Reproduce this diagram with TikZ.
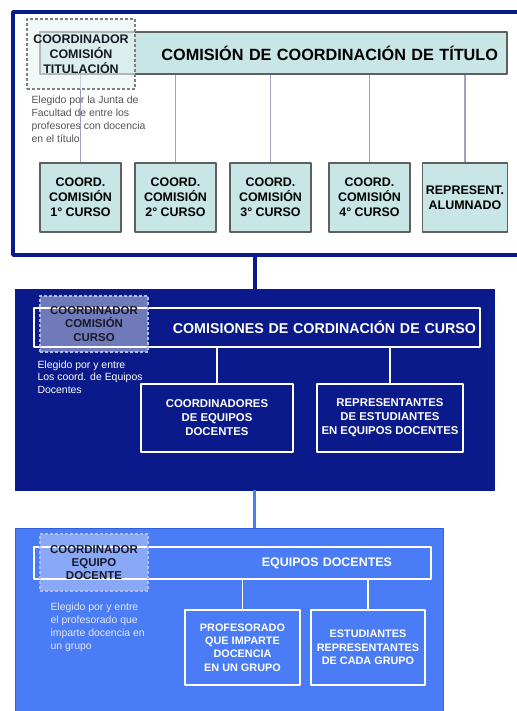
\documentclass[tikz,border=0pt]{standalone}
\usepackage{fontspec}
\setmainfont{Liberation Sans}
\usepackage{tikz}
\usetikzlibrary{shapes,arrows}

\definecolor{navy}{RGB}{10,26,138}
\definecolor{brightblue}{RGB}{74,124,245}
\definecolor{blueline}{RGB}{50,95,215}
\definecolor{tealfill}{RGB}{200,230,230}
\definecolor{boxgray}{RGB}{95,95,95}
\definecolor{linkgray}{RGB}{160,160,192}
\definecolor{notegray}{RGB}{85,85,85}
\definecolor{paleblue}{RGB}{175,190,235}
\definecolor{darktext}{RGB}{25,25,35}
\definecolor{palewhite}{RGB}{225,232,255}

\tikzset{
  panelframe/.style={draw,rectangle,inner sep=0pt},
  cyanbox/.style={draw=boxgray,fill=tealfill,line width=1.2bp,rectangle,align=center,
    font=\bfseries\fontsize{12.5}{15}\selectfont},
  outbox/.style={draw=white,line width=2bp,rectangle,align=center,text=white,
    font=\bfseries\fontsize{11.4}{14}\selectfont},
  dashbox/.style={rectangle,dashed,line width=1.6bp,dash pattern=on 3bp off 2bp,
    fill=white,text opacity=1,align=center,minimum width=108bp},
  notetext/.style={anchor=west,align=left,font=\fontsize{10.5}{13}\selectfont},
}

\begin{document}
\begin{tikzpicture}[>=latex,line join=bevel,x=1bp,y=1bp]
  \useasboundingbox (0bp,0bp) rectangle (517bp,711bp);
  \clip (0bp,0bp) rectangle (517bp,711bp);
%% panels
  \node (titpanel) at (271.5bp,577.5bp) [panelframe,draw=navy,line width=3.5bp,fill=white,minimum width=517bp,minimum height=243bp] {};
  \node (curpanel) at (254.5bp,321.5bp) [panelframe,draw=navy,fill=navy,minimum width=479bp,minimum height=201bp] {};
  \node (eqpanel) at (229bp,87bp) [panelframe,draw=blueline,fill=brightblue,minimum width=428bp,minimum height=192bp] {};
  \draw [navy,line width=4bp] (curpanel.north) -- (curpanel.north |- titpanel.south);
  \draw [brightblue,line width=3bp] (curpanel.south) -- (curpanel.south |- eqpanel.north);
%% comision de titulo
  \node (titlab) at (273.5bp,658bp) [cyanbox,minimum height=42bp,text width=449bp,inner xsep=9bp,align=right,font=\bfseries\fontsize{16.3}{19}\selectfont] {COMISIÓN DE COORDINACIÓN DE TÍTULO};
  \node (cur1) at (80.5bp,513.5bp) [cyanbox,minimum width=81bp,minimum height=69bp] {COORD.\\COMISIÓN\\1° CURSO};
  \node (cur2) at (175.5bp,513.5bp) [cyanbox,minimum width=81bp,minimum height=69bp] {COORD.\\COMISIÓN\\2° CURSO};
  \node (cur3) at (270.5bp,513.5bp) [cyanbox,minimum width=81bp,minimum height=69bp] {COORD.\\COMISIÓN\\3° CURSO};
  \node (cur4) at (369.5bp,513.5bp) [cyanbox,minimum width=81bp,minimum height=69bp] {COORD.\\COMISIÓN\\4° CURSO};
  \node (alum) at (465bp,513.5bp) [cyanbox,minimum width=81bp,minimum height=69bp] {REPRESENT.\\ALUMNADO};
  \foreach \n in {cur1,cur2,cur3,cur4,alum}
    \draw [linkgray,line width=1.2bp] (\n) -- (\n |- titlab.south);
  \node (coordtit) at (81bp,657bp) [dashbox,draw=gray,fill=tealfill!45!white,fill opacity=0.6,minimum height=70bp,text=darktext,font=\bfseries\fontsize{12.5}{15}\selectfont] {COORDINADOR\\COMISIÓN\\TITULACIÓN};
  \node (notetit) at (28bp,591.5bp) [notetext,text=notegray] {Elegido por la Junta de\\Facultad de entre los\\profesores con docencia\\en el título};
%% comisiones de curso
  \node (curlab) at (257bp,383.5bp) [outbox,minimum height=39bp,text width=438bp,inner xsep=4bp,align=right,font=\bfseries\fontsize{14.3}{17}\selectfont] {COMISIONES DE CORDINACIÓN DE CURSO};
  \node (coorded) at (217bp,293bp) [outbox,minimum width=152bp,minimum height=68bp] {COORDINADORES\\DE EQUIPOS\\DOCENTES};
  \node (repest) at (390bp,293bp) [outbox,minimum width=146bp,minimum height=68bp] {REPRESENTANTES\\DE ESTUDIANTES\\EN EQUIPOS DOCENTES};
  \draw [white,line width=1.2bp] (coorded) -- (coorded |- curlab.south);
  \draw [white,line width=1.2bp] (repest) -- (repest |- curlab.south);
  \node (coordcur) at (94bp,387bp) [dashbox,draw=paleblue,fill opacity=0.42,minimum height=56bp,text=darktext,font=\bfseries\fontsize{11.5}{13.5}\selectfont] {COORDINADOR\\COMISIÓN\\CURSO};
  \node (notecur) at (34bp,334bp) [notetext,text=white,font=\fontsize{10.5}{12.7}\selectfont] {Elegido por y entre\\Los coord. de Equipos\\Docentes};
%% equipos docentes
  \node (eqlab) at (232.5bp,148bp) [outbox,minimum height=32bp,text width=319bp,inner xsep=39bp,align=right,font=\bfseries\fontsize{12.5}{15}\selectfont] {EQUIPOS DOCENTES};
  \node (profgr) at (242.5bp,63.5bp) [outbox,minimum width=115bp,minimum height=75bp,font=\bfseries\fontsize{10.9}{13.3}\selectfont] {PROFESORADO\\QUE IMPARTE\\DOCENCIA\\EN UN GRUPO};
  \node (estgr) at (368bp,63.5bp) [outbox,minimum width=114bp,minimum height=75bp,font=\bfseries\fontsize{10.9}{13.3}\selectfont] {ESTUDIANTES\\REPRESENTANTES\\DE CADA GRUPO};
  \draw [white,line width=1.2bp] (profgr) -- (profgr |- eqlab.south);
  \draw [white,line width=1.2bp] (estgr) -- (estgr |- eqlab.south);
  \node (coordeq) at (94bp,148.5bp) [dashbox,draw=paleblue,fill opacity=0.35,minimum height=57bp,text=darktext,font=\bfseries\fontsize{11.5}{13.3}\selectfont] {COORDINADOR\\EQUIPO\\DOCENTE};
  \node (noteeq) at (47bp,84bp) [notetext,text=palewhite,font=\fontsize{10.5}{13}\selectfont] {Elegido por y entre\\el profesorado que\\imparte docencia en\\un grupo};
%
\end{tikzpicture}
\end{document}
